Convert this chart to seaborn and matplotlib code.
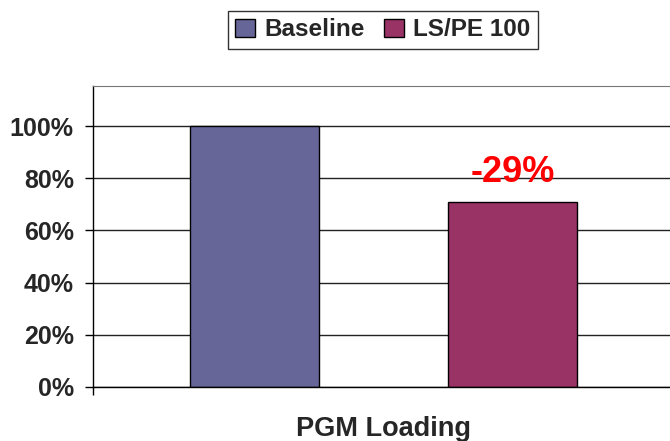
import pandas as pd
import matplotlib
matplotlib.use("Agg")
import matplotlib.pyplot as plt
import seaborn as sns
from matplotlib.ticker import PercentFormatter

categories = ["PGM Loading"]
series = ["Baseline", "LS/PE 100"]
values = [1.00, 0.71]
change_label = "-29%"
colors = ["#666699", "#993366"]

df = pd.DataFrame({
    "category": categories * len(series),
    "series": series,
    "value": values,
})

sns.set_style("white")
plt.rcParams["font.family"] = ["Liberation Sans", "DejaVu Sans"]
plt.rcParams["font.weight"] = "bold"

fig = plt.figure(figsize=(6.7, 4.41), dpi=100)
ax = fig.add_axes([93 / 670, 1 - 387 / 441, 1 - 93 / 670, (387 - 86) / 441])

sns.barplot(data=df, x="category", y="value", hue="series", palette=colors,
            saturation=1, width=0.888, gap=0.5, edgecolor="black", linewidth=1,
            legend=True, ax=ax)

ax.set_ylim(0, (387 - 86) / 261)
ax.set_xlim(-0.5, (670 - 383.5) / 581)
ax.set_yticks([0, 0.2, 0.4, 0.6, 0.8, 1.0])
ax.yaxis.set_major_formatter(PercentFormatter(1.0, decimals=0))
ax.set_xticks([-0.5])
ax.set_xticklabels([""])
ax.tick_params(axis="y", direction="out", length=5.8, width=1, color="black",
               labelsize=18, pad=8, left=True)
ax.tick_params(axis="x", direction="out", length=5.8, width=1, color="black", bottom=True)
for lab in ax.get_yticklabels():
    lab.set_fontweight("bold")

ax.yaxis.grid(True, color="#222222", linewidth=1)
ax.set_axisbelow(True)
ax.set_ylabel("")
ax.set_xlabel(categories[0], fontsize=19.5, fontweight="bold", va="center")
ax.xaxis.set_label_coords((383.5 - 93) / 577, -(429 - 387) / 301)

for side in ["left", "bottom"]:
    ax.spines[side].set_color("black")
    ax.spines[side].set_linewidth(1)
ax.spines["top"].set_color("#777777")
ax.spines["right"].set_visible(False)

# change annotation above second bar
bar2 = ax.patches[1]
ax.text(bar2.get_x() + bar2.get_width() / 2, 0.82, change_label, color="red",
        fontsize=26, fontweight="bold", ha="center", va="center")

ax.legend_.remove()
leg = fig.legend(handles=ax.patches[:2], labels=series, loc="center",
                 bbox_to_anchor=(383 / 670, 1 - 30 / 441), ncol=2,
                 frameon=True, fancybox=False, edgecolor="black",
                 prop={"size": 17.5, "weight": "bold"}, handlelength=0.8,
                 handleheight=0.8, handletextpad=0.4, columnspacing=0.8,
                 borderpad=0.3)
leg.get_frame().set_linewidth(1)

fig.savefig("out.png", dpi=100)
